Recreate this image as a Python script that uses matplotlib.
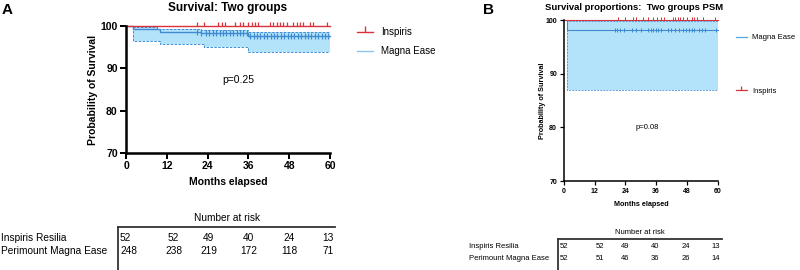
import matplotlib
matplotlib.use("Agg")
import matplotlib.pyplot as plt
from matplotlib.lines import Line2D
import matplotlib.transforms as mtransforms

plt.rcParams['font.family'] = ['Liberation Sans', 'DejaVu Sans']

# ---- data: panel A (all patients) ----
a_times = [0, 2, 9, 10, 22, 23, 36, 60]
a_magna = [100, 99.2, 99.2, 98.7, 98.3, 98.3, 97.6, 97.6]
a_magna_hi = [100, 99.7, 99.3, 99.3, 99.05, 99.05, 98.7, 98.7]
a_magna_lo = [100, 96.5, 96.5, 95.7, 95.7, 95.0, 93.9, 93.9]
a_insp_times = [0, 60]
a_insp = [100, 100]
a_insp_cens = [21.0, 22.9, 27.2, 28.1, 29.1, 32.1, 33.5, 34.5, 36.0, 37.0, 38.0,
               38.9, 42.4, 43.3, 44.3, 45.3, 46.3, 47.3, 49.2, 50.2, 51.2, 52.2,
               54.0, 55.0, 59.0]
a_magna_cens = [21.0, 22.0, 23.5, 24.5, 25.5, 26.5, 27.5, 28.5, 29.5, 30.5, 31.5,
                32.5, 33.5, 34.5, 35.5, 36.5, 37.5, 38.5, 39.5, 40.5, 41.5, 42.5,
                43.5, 44.5, 45.5, 46.5, 47.5, 48.5, 49.5, 50.5, 51.5, 52.5, 53.5,
                54.5, 55.5, 56.5, 57.5, 58.5, 59.5]
a_pval = "p=0.25"

# ---- data: panel B (PSM) ----
b_times = [0, 1, 60]
b_magna = [100, 98.1, 98.1]
b_magna_hi = [100, 99.8, 99.8]
b_magna_lo = [100, 87.0, 87.0]
b_insp_times = [0, 60]
b_insp = [100, 100]
b_insp_cens = [21.2, 23.8, 27.1, 28.1, 30.7, 32.9, 34.9, 36.4, 37.7, 39.0, 42.4,
               43.3, 44.4, 45.3, 46.6, 47.9, 49.8, 50.7, 51.8, 54.1, 58.9]
b_magna_cens = [19.9, 20.8, 21.9, 23.4, 26.7, 28.1, 29.9, 32.9, 33.8, 34.9, 35.9,
                36.8, 37.9, 40.7, 41.6, 43.3, 45.0, 46.6, 47.5, 48.7, 49.8, 50.7,
                52.8, 53.7, 55.0, 59.5]
b_pval = "p=0.08"

# ---- number at risk ----
risk_months = [0, 12, 24, 36, 48, 60]
risk_rows = ["Inspiris Resilia", "Perimount Magna Ease"]
a_risk = [[52, 52, 49, 40, 24, 13], [248, 238, 219, 172, 118, 71]]
b_risk = [[52, 52, 49, 40, 24, 13], [52, 51, 46, 36, 26, 14]]

RED = "#d8323c"
BLUE = "#3f8bd2"
FILL = "#b3e3fa"
LEG_BLUE = "#8cc6ec"

W, H = 800, 270
fig = plt.figure(figsize=(W / 100, H / 100), dpi=100)


def fx(px):
    return px / W


def fy(py):
    return 1 - py / H


def level_at(times, surv, t):
    val = surv[0]
    for tt, s in zip(times, surv):
        if tt <= t:
            val = s
    return val


def km_panel(ax, times, magna, hi, lo, insp_t, insp, insp_c, magna_c, lw, spw,
             fs_tick, fs_lab, ms, tick_len):
    ax.fill_between(times, lo, hi, step='post', color=FILL, lw=0)
    ax.step(times, hi, where='post', color=BLUE, lw=lw * 0.7, ls=(0, (2.5, 1.5)))
    ax.step(times, lo, where='post', color=BLUE, lw=lw * 0.7, ls=(0, (2.5, 1.5)))
    ax.step(times, magna, where='post', color=BLUE, lw=lw, clip_on=False)
    ax.step(insp_t, insp, where='post', color=RED, lw=lw, clip_on=False)
    ax.plot(magna_c, [level_at(times, magna, t) for t in magna_c], ls='none',
            marker='|', ms=ms, mew=lw * 0.9, color=BLUE, clip_on=False)
    ax.plot(insp_c, [level_at(insp_t, insp, t) for t in insp_c], ls='none',
            marker=2, ms=ms * 0.8, mew=lw * 0.9, color=RED, clip_on=False)
    ax.set_xlim(0, 60)
    ax.set_ylim(70, 100)
    ax.set_xticks(risk_months)
    ax.set_yticks([70, 80, 90, 100])
    for s in ['top', 'right']:
        ax.spines[s].set_visible(False)
    for s in ['left', 'bottom']:
        ax.spines[s].set_linewidth(spw)
    ax.tick_params(width=spw * 0.8, length=tick_len, labelsize=fs_tick, pad=2)
    for lab in ax.get_xticklabels() + ax.get_yticklabels():
        lab.set_fontweight('bold')
    ax.set_xlabel("Months elapsed", fontsize=fs_lab, fontweight='bold')
    ax.set_ylabel("Probability of Survival", fontsize=fs_lab, fontweight='bold')


# ---- panel A ----
axA = fig.add_axes([fx(126), fy(153), fx(330) - fx(126), fy(26) - fy(153)])
km_panel(axA, a_times, a_magna, a_magna_hi, a_magna_lo, a_insp_times, a_insp,
         a_insp_cens, a_magna_cens, lw=1.0, spw=1.8, fs_tick=7.5, fs_lab=7.5,
         ms=4, tick_len=4)
axA.yaxis.set_label_coords(-0.137, 0.5)
axA.xaxis.set_label_coords(0.5, -0.19)
axA.text(33, 87.2, a_pval, fontsize=7.5, ha='center', va='center')
fig.text(fx(228), fy(8), "Survival: Two groups", fontsize=8.5, fontweight='bold',
         ha='center', va='center')
fig.text(fx(2), fy(10), "A", fontsize=11, fontweight='bold', ha='left', va='center')
hA = [Line2D([], [], color=RED, lw=1.0, marker=2, ms=4, mew=1.0),
      Line2D([], [], color=LEG_BLUE, lw=1.0)]
fig.legend(hA, ["Inspiris", "Magna Ease"], loc='upper left',
           bbox_to_anchor=(fx(357), fy(27)), frameon=False, fontsize=7,
           handlelength=1.6, handletextpad=0.9, labelspacing=0.95,
           borderpad=0, borderaxespad=0)

# ---- panel B ----
axB = fig.add_axes([fx(564), fy(181), fx(717.7) - fx(564), fy(20) - fy(181)])
km_panel(axB, b_times, b_magna, b_magna_hi, b_magna_lo, b_insp_times, b_insp,
         b_insp_cens, b_magna_cens, lw=0.8, spw=1.1, fs_tick=5, fs_lab=5.2,
         ms=3, tick_len=3)
axB.yaxis.set_label_coords(-0.12, 0.5)
axB.xaxis.set_label_coords(0.5, -0.125)
axB.text(32.3, 80.0, b_pval, fontsize=5.5, ha='center', va='center')
fig.text(fx(634), fy(8), "Survival proportions:  Two groups PSM", fontsize=6.8,
         fontweight='bold', ha='center', va='center')
fig.text(fx(483), fy(10), "B", fontsize=11, fontweight='bold', ha='left', va='center')
hB = [Line2D([], [], color="#5aa6de", lw=0.9),
      Line2D([], [], color=RED, lw=0.9, marker=2, ms=3, mew=0.9)]
fig.legend(hB, ["Magna Ease", "Inspiris"], loc='upper left',
           bbox_to_anchor=(fx(736), fy(34)), frameon=False, fontsize=5.5,
           handlelength=1.4, handletextpad=0.7, labelspacing=6.0,
           borderpad=0, borderaxespad=0)


# ---- number-at-risk tables ----
def risk_table(ax, counts, line_y, title_y, row_ys, label_x, left_px, right_px,
               fs, col_shift):
    trans = mtransforms.blended_transform_factory(ax.transData, fig.transFigure)
    fig.text((fx(left_px) + fx(right_px)) / 2, fy(title_y), "Number at risk",
             fontsize=fs, ha='center', va='center')
    fig.add_artist(Line2D([fx(left_px), fx(right_px)], [fy(line_y), fy(line_y)],
                          color='#333333', lw=1.3, transform=fig.transFigure))
    fig.add_artist(Line2D([fx(left_px), fx(left_px)], [fy(line_y), 0],
                          color='#333333', lw=1.3, transform=fig.transFigure))
    for row_name, row_vals, yy in zip(risk_rows, counts, row_ys):
        fig.text(fx(label_x), fy(yy), row_name, fontsize=fs, ha='left', va='center')
        for i, (m, v) in enumerate(zip(risk_months, row_vals)):
            if i == 0:
                fig.text(fx(left_px + 2), fy(yy), str(v), fontsize=fs,
                         ha='left', va='center')
            else:
                ax.text(m + col_shift[i], fy(yy), str(v), fontsize=fs,
                        ha='center', va='center', transform=trans, clip_on=False)


risk_table(axA, a_risk, 227, 218, [238, 251], 1, 118, 335, 7.3,
           [0, 2, 0.3, 0, 0, -0.5])
risk_table(axB, b_risk, 239, 232, [247, 259], 469, 558, 722, 5.5,
           [0, 2, 0, -0.5, -0.4, -0.7])

fig.savefig("out.png", dpi=100)
